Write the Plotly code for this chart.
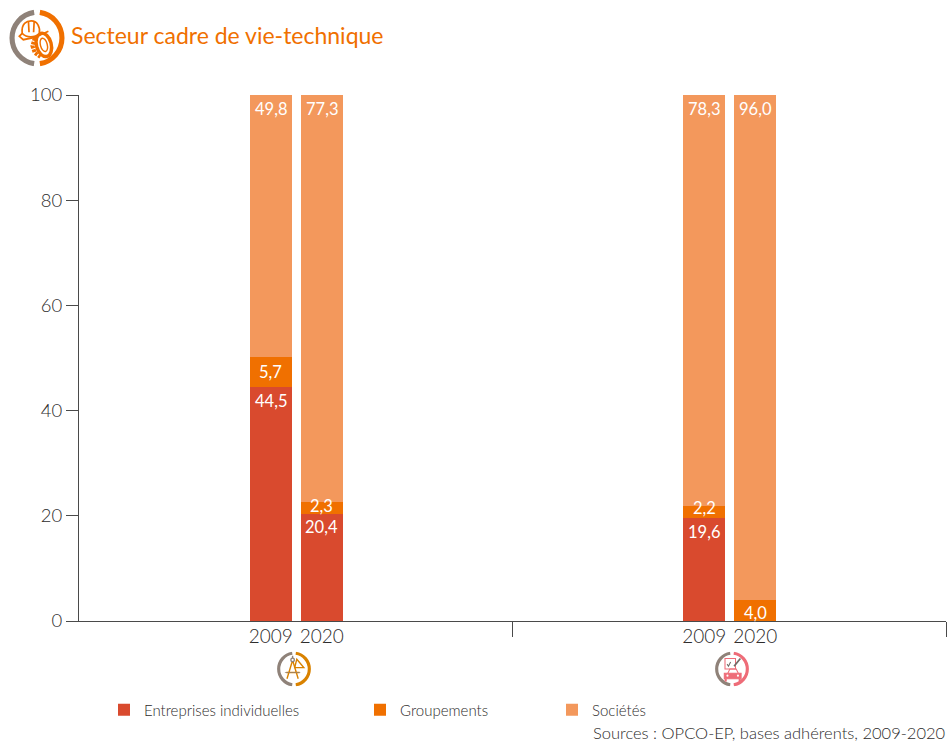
import base64
import plotly.graph_objects as go

# ---- data ----
series_names = ["Entreprises individuelles", "Groupements", "Sociétés"]
individuelles = [44.5, 20.4, 19.6, 0]
groupements = [5.7, 2.3, 2.2, 4.0]
societes = [49.8, 77.3, 78.3, 96.0]
value_labels = [
    ["44,5", "20,4", "19,6", ""],
    ["5,7", "2,3", "2,2", "4,0"],
    ["49,8", "77,3", "78,3", "96,0"],
]
years = ["2009", "2020", "2009", "2020"]
bar_groups = [0, 0, 1, 1]
y_ticks = [0, 20, 40, 60, 80, 100]
title_text = "Secteur cadre de vie-technique"
source_text = "Sources : OPCO-EP, bases adhérents, 2009-2020"

# ---- style ----
W, H = 950, 744
L, R, T, B = 79, 946, 95, 621  # plot area in page pixels
FONT = "Lato"
INK = "#2e2c2c"
AXIS = "#4a4a4a"
ORANGE = "#f07000"
colors = ["#d94a2e", "#f07000", "#f3985c"]
GROUP_PX = (R - L) / 2
bar_offset = 51 / GROUP_PX / 2
nudge = 0.5 / GROUP_PX
x_pos = [g + 0.5 + nudge + (-bar_offset if i % 2 == 0 else bar_offset) for i, g in enumerate(bar_groups)]
label_dy = [[-2, -1, -2, 0], [-3, 8, 10, -1], [-2, -2, -2, -2]]


def ring(inner, right_color, size=100):
    svg = (
        f'<svg xmlns="http://www.w3.org/2000/svg" viewBox="0 0 100 100" width="{size}" height="{size}">'
        '<g fill="none" stroke-width="9">'
        '<path d="M45 5 A45.5 45.5 0 0 0 45 95" stroke="#8f8279"/>'
        f'<path d="M55 5 A45.5 45.5 0 0 1 55 95" stroke="{right_color}"/></g>'
        f"{inner}</svg>"
    )
    return "data:image/svg+xml;base64," + base64.b64encode(svg.encode()).decode()


helmet = (
    '<g fill="none" stroke="#f07000" stroke-width="3">'
    '<ellipse cx="62" cy="62" rx="13" ry="21" transform="rotate(-15 62 62)" stroke-width="6"/>'
    '<ellipse cx="62" cy="62" rx="6" ry="12" transform="rotate(-15 62 62)" stroke-width="2.5"/>'
    '<path d="M46 50 L42 64 L46 76 L56 83" stroke-width="7" stroke-dasharray="5 2"/>'
    '<path d="M24 42 C22 24 32 20 40 20 C50 20 56 30 54 42 C46 50 32 50 24 42 Z" fill="#fff"/>'
    '<path d="M35 21 L36 40 M45 22 L44 40 M24 42 L19 47 L26 53 L46 49 L70 38"/>'
    "</g>"
)
compass = (
    '<g fill="none" stroke-width="4">'
    '<path d="M46 25 L30 78 M46 25 L62 78 M28 60 L66 60" stroke="#d98200"/>'
    '<path d="M46 12 L46 25" stroke="#8f8279"/>'
    '<circle cx="46" cy="24" r="5" stroke="#8f8279" fill="#fff"/>'
    '<path d="M58 22 L78 46 L52 46 Z" stroke="#d98200"/>'
    '<path d="M24 60 L68 60" stroke="#8f8279" stroke-width="2"/>'
    "</g>"
)
car = (
    '<g fill="none" stroke-width="3">'
    '<path d="M30 20 H60 V50 H30 Z" stroke="#ee6c78"/>'
    '<path d="M36 36 L40 42 L46 30" stroke="#6f6a66"/>'
    '<path d="M56 42 L74 20" stroke="#6f6a66" stroke-width="5"/>'
    '<path d="M38 62 L44 50 H62 L68 62" stroke="#ee6c78"/>'
    '<path d="M28 62 H76 V78 H28 Z" fill="#ee6c78" stroke="#ee6c78"/>'
    '<path d="M32 78 V86 M72 78 V86" stroke="#ee6c78" stroke-width="6"/>'
    '<circle cx="37" cy="69" r="3" fill="#fff" stroke="none"/>'
    '<circle cx="67" cy="69" r="3" fill="#fff" stroke="none"/>'
    "</g>"
)

fig = go.Figure()
all_values = [individuelles, groupements, societes]
for i, (name, vals, color) in enumerate(zip(series_names, all_values, colors)):
    fig.add_trace(go.Bar(
        x=x_pos, y=vals, name=name, marker=dict(color=color, line=dict(width=0)),
        width=42 / GROUP_PX, hoverinfo="name+y", showlegend=True,
        legend="legend" if i == 0 else f"legend{i + 1}",
    ))

for s, (vals, labels) in enumerate(zip(all_values, value_labels)):
    for b, label in enumerate(labels):
        if not label:
            continue
        top = sum(all_values[k][b] for k in range(s + 1))
        fig.add_annotation(
            x=x_pos[b], y=min(top, 100), text=label, showarrow=False, yanchor="top",
            yshift=label_dy[s][b], font=dict(family=FONT, size=16.5, color="white", weight=400),
        )


def image(src, cx, cy, size):
    return dict(source=src, xref="paper", yref="paper", x=(cx - size / 2 - L) / (R - L),
                y=(B - cy + size / 2) / (B - T), sizex=size / (R - L), sizey=size / (B - T),
                xanchor="left", yanchor="top", layer="above")


fig.update_layout(
    width=W, height=H, autosize=False, barmode="stack", bargap=0,
    margin=dict(l=L, r=W - R, t=T, b=H - B),
    paper_bgcolor="white", plot_bgcolor="white",
    font=dict(family=FONT, color=INK, size=18, weight=300),
    title=dict(text=title_text, x=71 / W, xanchor="left", xref="container",
               y=1 - 36 / H, yanchor="middle", yref="container",
               font=dict(family=FONT, size=23, color=ORANGE, weight=400)),
    xaxis=dict(range=[0, 2], tickvals=x_pos, ticktext=years, ticks="", showgrid=False,
               tickangle=0, showline=True, linecolor=AXIS, linewidth=1, zeroline=False,
               tickfont=dict(size=19, color=INK, weight=300), ticklabelstandoff=-2,
               minor=dict(tickvals=[1, 2], ticks="outside", ticklen=15, tickcolor=AXIS,
                          tickwidth=1, showgrid=False)),
    yaxis=dict(range=[0, 100], tickvals=y_ticks, ticks="outside", ticklen=12, tickcolor=AXIS,
               tickwidth=1, showline=True, linecolor=AXIS, linewidth=1, showgrid=False,
               zeroline=False, tickfont=dict(size=18.5, color=INK, weight=300), ticklabelstandoff=0),
    images=[image(ring(helmet, ORANGE), 37, 38, 57),
            image(ring(compass, "#d98200"), 294, 669, 35),
            image(ring(car, "#ee6c78"), 732, 669, 35)],
    annotations=list(fig.layout.annotations) + [
        dict(text=source_text, xref="paper", yref="paper", x=1.001, y=(B - 733) / (B - T),
             xanchor="right", yanchor="middle", showarrow=False,
             font=dict(family=FONT, size=16.5, color=INK, weight=300)),
    ],
)
common = dict(orientation="h", xref="paper", yref="paper", xanchor="left", yanchor="middle",
              y=(B - 710) / (B - T), bgcolor="rgba(0,0,0,0)", font=dict(size=15, color=INK, weight=300),
              borderwidth=0, itemclick=False, itemdoubleclick=False, visible=True)
fig.update_layout(
    showlegend=True,
    legend=dict(x=(104 - L) / (R - L), **common),
    legend2=dict(x=(360 - L) / (R - L), **common),
    legend3=dict(x=(552 - L) / (R - L), **common),
)
fig.write_html("out.html", config={"displayModeBar": False},
               post_script="document.body.style.margin='0';")
